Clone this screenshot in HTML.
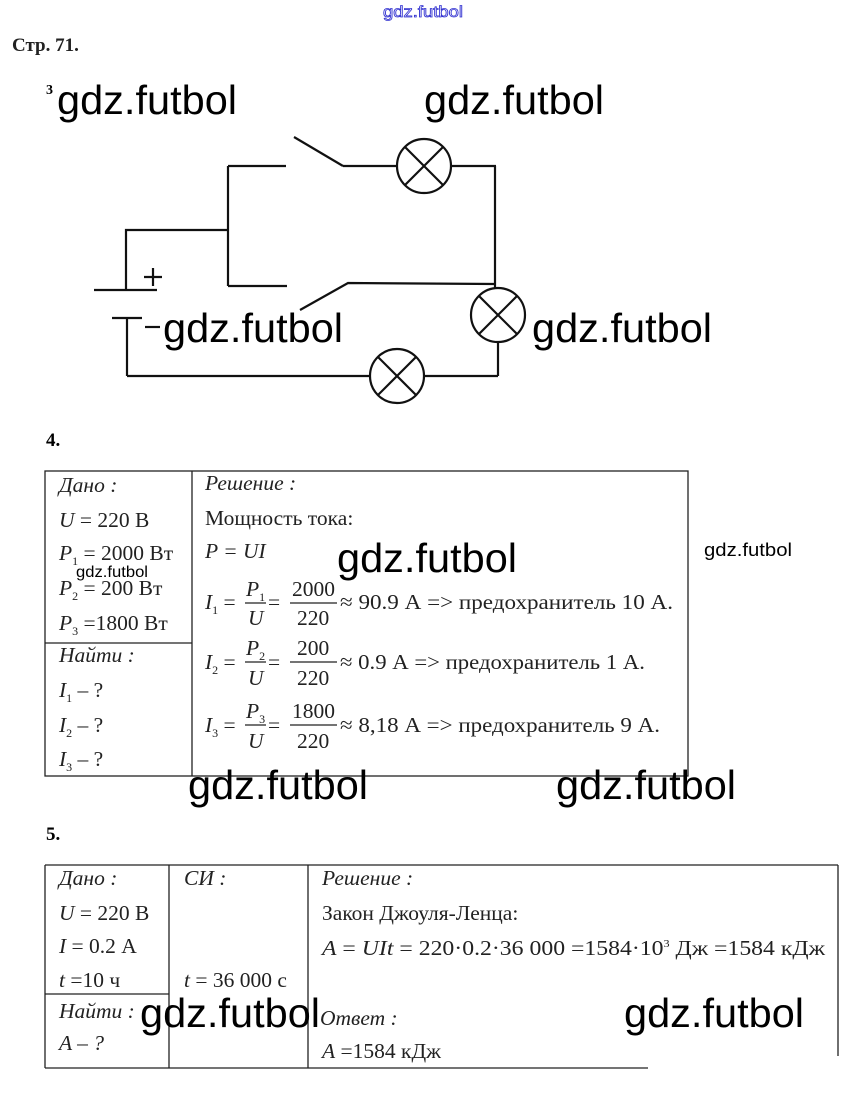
<!DOCTYPE html>
<html><head><meta charset="utf-8"><style>
html,body{margin:0;padding:0;background:#fff;}
svg{display:block}
.s{font-family:"Liberation Serif",serif;font-size:21.5px;fill:#222}
.i{font-style:italic}
.w{font-family:"Liberation Sans",sans-serif;font-size:41px;fill:#000}
</style></head><body>
<svg width="847" height="1116" viewBox="0 0 847 1116" xmlns="http://www.w3.org/2000/svg">
<text x="383" y="17" font-family="Liberation Sans,sans-serif" font-size="16" fill="#fff" stroke="#3030d0" stroke-width="0.8" textLength="80" lengthAdjust="spacingAndGlyphs">gdz.futbol</text>
<text x="12" y="51" font-family="Liberation Serif,serif" font-weight="bold" font-size="19" fill="#222">Стр. 71.</text>
<text x="46" y="94" font-family="Liberation Serif,serif" font-weight="bold" font-size="14">3</text>
<g stroke="#111" stroke-width="2.2" fill="none">
<line x1="294" y1="137" x2="343" y2="166"/><line x1="343" y1="166" x2="396" y2="166"/>
<circle cx="424" cy="166" r="27"/><line x1="405" y1="147" x2="443" y2="185"/><line x1="443" y1="147" x2="405" y2="185"/>
<line x1="452" y1="166" x2="496" y2="166"/><line x1="495" y1="166" x2="495" y2="288"/>
<circle cx="498" cy="315" r="27"/><line x1="479" y1="296" x2="517" y2="334"/><line x1="517" y1="296" x2="479" y2="334"/>
<line x1="498" y1="342" x2="498" y2="376"/>
<line x1="127" y1="376" x2="370" y2="376"/><line x1="424" y1="376" x2="498" y2="376"/>
<circle cx="397" cy="376" r="27"/><line x1="378" y1="357" x2="416" y2="395"/><line x1="416" y1="357" x2="378" y2="395"/>
<line x1="228" y1="166" x2="286" y2="166"/><line x1="228" y1="166" x2="228" y2="286"/><line x1="228" y1="286" x2="287" y2="286"/>
<polyline points="300,310 348,283 495,284"/>
<polyline points="228,230 126,230 126,290"/>
<line x1="94" y1="290" x2="157" y2="290"/><line x1="112" y1="318" x2="142" y2="318"/>
<line x1="127" y1="318" x2="127" y2="376"/>
<line x1="153" y1="268" x2="153" y2="286"/><line x1="144" y1="277" x2="162" y2="277"/>
<line x1="145" y1="327" x2="160" y2="327"/>
</g>
<g class="w">
<text x="57" y="114" textLength="180" lengthAdjust="spacingAndGlyphs">gdz.futbol</text>
<text x="424" y="114" textLength="180" lengthAdjust="spacingAndGlyphs">gdz.futbol</text>
<text x="163" y="342" textLength="180" lengthAdjust="spacingAndGlyphs">gdz.futbol</text>
<text x="532" y="342" textLength="180" lengthAdjust="spacingAndGlyphs">gdz.futbol</text>
</g>

<text x="46" y="446" font-family="Liberation Serif,serif" font-weight="bold" font-size="19">4.</text>
<g stroke="#222" stroke-width="1.3" fill="none">
<rect x="45" y="471" width="643" height="305"/><line x1="192" y1="471" x2="192" y2="776"/><line x1="45" y1="643" x2="192" y2="643"/>
<line x1="245" y1="603" x2="266" y2="603"/><line x1="290" y1="603" x2="337" y2="603"/>
<line x1="245" y1="662" x2="266" y2="662"/><line x1="290" y1="662" x2="337" y2="662"/>
<line x1="245" y1="725" x2="266" y2="725"/><line x1="290" y1="725" x2="337" y2="725"/>
</g>
<g class="s">
<text x="59" y="492" class="i">Дано :</text>
<text x="59" y="527"><tspan class="i">U</tspan> = 220 В</text>
<text x="59" y="560"><tspan class="i">P</tspan><tspan font-size="12" dy="5">1</tspan><tspan dy="-5"> = 2000 Вт</tspan></text>
<text x="59" y="595"><tspan class="i">P</tspan><tspan font-size="12" dy="5">2</tspan><tspan dy="-5"> = 200 Вт</tspan></text>
<text x="59" y="630"><tspan class="i">P</tspan><tspan font-size="12" dy="5">3</tspan><tspan dy="-5"> =1800 Вт</tspan></text>
<text x="59" y="662" class="i">Найти :</text>
<text x="59" y="697"><tspan class="i">I</tspan><tspan font-size="12" dy="5">1</tspan><tspan dy="-5"> – ?</tspan></text>
<text x="59" y="732"><tspan class="i">I</tspan><tspan font-size="12" dy="5">2</tspan><tspan dy="-5"> – ?</tspan></text>
<text x="59" y="766"><tspan class="i">I</tspan><tspan font-size="12" dy="5">3</tspan><tspan dy="-5"> – ?</tspan></text>
<text x="205" y="490" class="i">Решение :</text>
<text x="205" y="525">Мощность тока:</text>
<text x="205" y="558" class="i">P = UI</text>
<text x="205" y="609"><tspan class="i">I</tspan><tspan font-size="12" dy="5">1</tspan><tspan dy="-5"> =</tspan></text>
<text x="246" y="596" class="i">P<tspan font-size="12" dy="5" font-style="normal">1</tspan></text>
<text x="248" y="625" class="i">U</text><text x="268" y="609">=</text>
<text x="292" y="596">2000</text><text x="297" y="625">220</text>
<text x="340" y="609" textLength="333" lengthAdjust="spacingAndGlyphs">≈ 90.9 А =&gt; предохранитель 10 А.</text>
<text x="205" y="669"><tspan class="i">I</tspan><tspan font-size="12" dy="5">2</tspan><tspan dy="-5"> =</tspan></text>
<text x="246" y="655" class="i">P<tspan font-size="12" dy="5" font-style="normal">2</tspan></text>
<text x="248" y="685" class="i">U</text><text x="268" y="669">=</text>
<text x="297" y="655">200</text><text x="297" y="685">220</text>
<text x="340" y="669" textLength="305" lengthAdjust="spacingAndGlyphs">≈ 0.9 А =&gt; предохранитель 1 А.</text>
<text x="205" y="732"><tspan class="i">I</tspan><tspan font-size="12" dy="5">3</tspan><tspan dy="-5"> =</tspan></text>
<text x="246" y="718" class="i">P<tspan font-size="12" dy="5" font-style="normal">3</tspan></text>
<text x="248" y="748" class="i">U</text><text x="268" y="732">=</text>
<text x="292" y="718">1800</text><text x="297" y="748">220</text>
<text x="340" y="732" textLength="320" lengthAdjust="spacingAndGlyphs">≈ 8,18 А =&gt; предохранитель 9 А.</text>
</g>
<text class="w" x="337" y="572" textLength="180" lengthAdjust="spacingAndGlyphs">gdz.futbol</text>
<text x="704" y="556" font-family="Liberation Sans,sans-serif" font-size="18" textLength="88" lengthAdjust="spacingAndGlyphs">gdz.futbol</text>
<text x="76" y="577" font-family="Liberation Sans,sans-serif" font-size="16" textLength="72" lengthAdjust="spacingAndGlyphs">gdz.futbol</text>
<text class="w" x="188" y="799" textLength="180" lengthAdjust="spacingAndGlyphs">gdz.futbol</text>
<text class="w" x="556" y="799" textLength="180" lengthAdjust="spacingAndGlyphs">gdz.futbol</text>

<text x="46" y="840" font-family="Liberation Serif,serif" font-weight="bold" font-size="19">5.</text>
<g stroke="#222" stroke-width="1.3" fill="none">
<line x1="45" y1="865" x2="838" y2="865"/><line x1="45" y1="865" x2="45" y2="1068"/>
<line x1="169" y1="865" x2="169" y2="1068"/><line x1="308" y1="865" x2="308" y2="1068"/>
<line x1="838" y1="865" x2="838" y2="1056"/><line x1="45" y1="994" x2="169" y2="994"/>
<line x1="45" y1="1068" x2="648" y2="1068"/>
</g>
<g class="s">
<text x="59" y="885" class="i">Дано :</text>
<text x="59" y="920"><tspan class="i">U</tspan> = 220 В</text>
<text x="59" y="953"><tspan class="i">I</tspan> = 0.2 А</text>
<text x="59" y="987"><tspan class="i">t</tspan> =10 ч</text>
<text x="59" y="1018" class="i">Найти :</text>
<text x="59" y="1050" class="i">A – ?</text>
<text x="184" y="885" class="i">СИ :</text>
<text x="184" y="987"><tspan class="i">t</tspan> = 36 000 с</text>
<text x="322" y="885" class="i">Решение :</text>
<text x="322" y="920">Закон Джоуля-Ленца:</text>
<text x="322" y="955" textLength="503" lengthAdjust="spacingAndGlyphs"><tspan class="i">A</tspan> = <tspan class="i">UIt</tspan> = 220·0.2·36 000 =1584·10<tspan font-size="11" dy="-8">3</tspan><tspan dy="8"> Дж =1584 кДж</tspan></text>
<text x="320" y="1025" class="i">Ответ :</text>
<text x="322" y="1058"><tspan class="i">A</tspan> =1584 кДж</text>
</g>
<text class="w" x="140" y="1027" textLength="180" lengthAdjust="spacingAndGlyphs">gdz.futbol</text>
<text class="w" x="624" y="1027" textLength="180" lengthAdjust="spacingAndGlyphs">gdz.futbol</text>
</svg>
</body></html>
